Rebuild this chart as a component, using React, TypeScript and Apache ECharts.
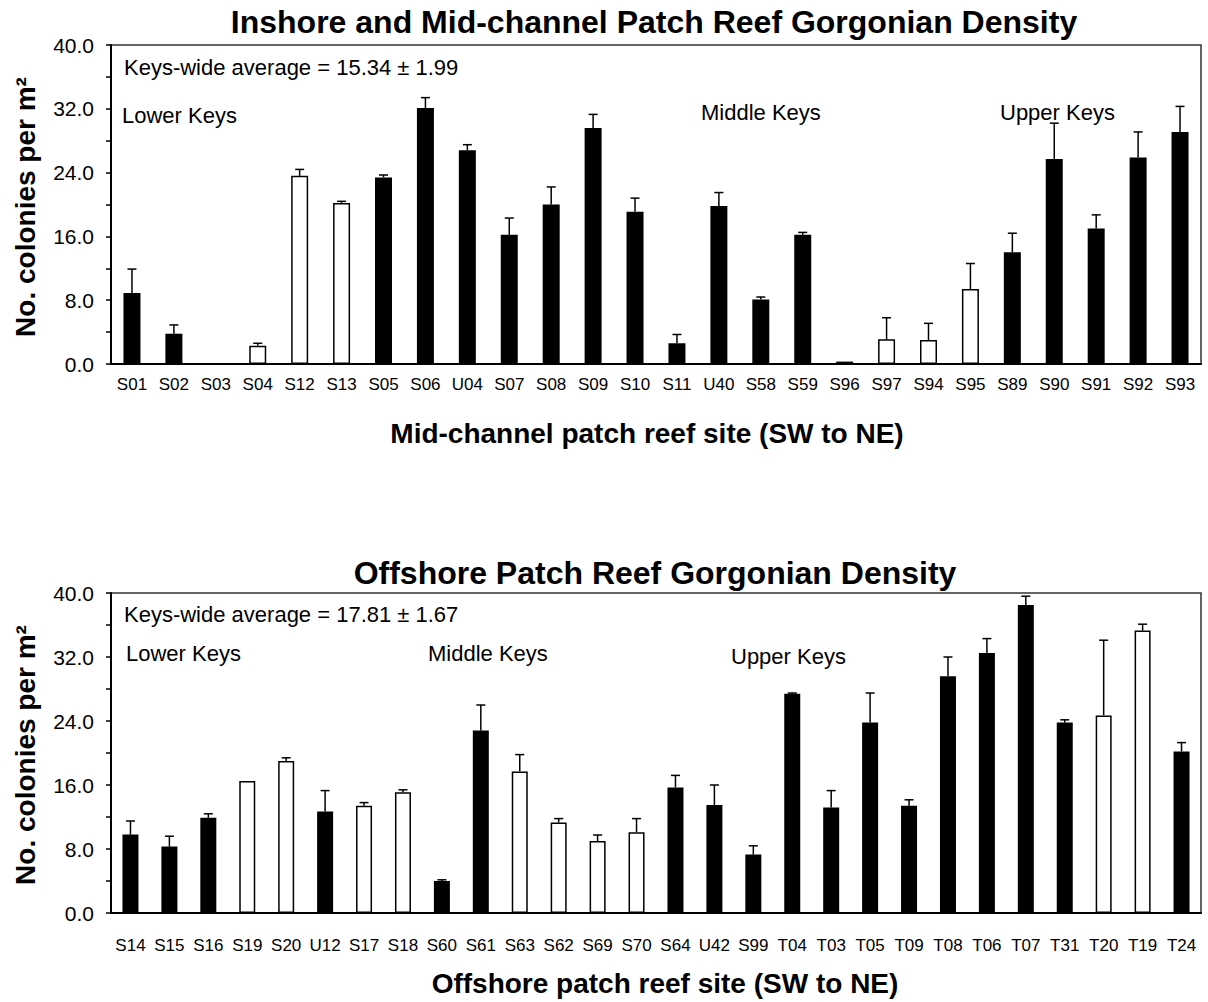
import React, { useEffect, useRef } from "react";
import * as echarts from "echarts";

const topSites = ["S01","S02","S03","S04","S12","S13","S05","S06","U04","S07","S08","S09","S10","S11","U40","S58","S59","S96","S97","S94","S95","S89","S90","S91","S92","S93"];
const topMeans = [8.9, 3.8, 0, 2.3, 23.6, 20.2, 23.4, 32.1, 26.8, 16.2, 20.0, 29.6, 19.1, 2.6, 19.8, 8.1, 16.2, 0.3, 3.1, 3.0, 9.4, 14.0, 25.7, 17.0, 25.9, 29.1];
const topErrs = [3.0, 1.1, 0, 0.3, 0.8, 0.2, 0.3, 1.3, 0.7, 2.1, 2.2, 1.7, 1.7, 1.1, 1.7, 0.3, 0.3, 0, 2.7, 2.1, 3.2, 2.4, 4.5, 1.7, 3.2, 3.2];
const topOpen = ["S03","S04","S12","S13","S97","S94","S95"];

const botSites = ["S14","S15","S16","S19","S20","U12","S17","S18","S60","S61","S63","S62","S69","S70","S64","U42","S99","T04","T03","T05","T09","T08","T06","T07","T31","T20","T19","T24"];
const botMeans = [9.8, 8.3, 11.9, 16.5, 19.0, 12.7, 13.4, 15.1, 4.0, 22.8, 17.7, 11.3, 9.0, 10.1, 15.7, 13.5, 7.3, 27.4, 13.2, 23.8, 13.4, 29.6, 32.5, 38.5, 23.8, 24.7, 35.3, 20.2];
const botErrs = [1.7, 1.3, 0.5, 0, 0.4, 2.6, 0.4, 0.3, 0.15, 3.2, 2.1, 0.5, 0.75, 1.7, 1.5, 2.5, 1.1, 0.1, 2.1, 3.7, 0.75, 2.4, 1.8, 1.1, 0.35, 9.4, 0.8, 1.1];
const botOpen = ["S19","S20","S17","S18","S63","S62","S69","S70","T20","T19"];

const yTicks = [0, 8, 16, 24, 32, 40];

const FONT = "'Liberation Sans', Arial, sans-serif";

function barData(sites: string[], means: number[], open: string[]) {
  return means.map((v, i) =>
    open.includes(sites[i])
      ? { value: v, itemStyle: { color: "#fff", borderColor: "#000", borderWidth: 1.5 } }
      : { value: v, itemStyle: { color: "#000", borderColor: "#000", borderWidth: 0 } }
  );
}

function errRender(capHalf: number) {
  return (params: any, api: any) => {
    const x = api.value(0);
    const m = api.value(1);
    const e = api.value(2);
    if (!(e > 0)) return { type: "group", children: [] };
    const p0 = api.coord([x, m]);
    const p1 = api.coord([x, m + e]);
    const st = { stroke: "#000", lineWidth: 1.5 };
    return {
      type: "group",
      children: [
        { type: "line", shape: { x1: p0[0], y1: p0[1], x2: p1[0], y2: p1[1] }, style: st },
        { type: "line", shape: { x1: p1[0] - capHalf, y1: p1[1], x2: p1[0] + capHalf, y2: p1[1] }, style: st },
      ],
    };
  };
}

function yAxisCfg(gridIndex: number) {
  return {
    type: "value",
    gridIndex,
    min: 0,
    max: 40,
    interval: 4,
    axisLine: { show: true, lineStyle: { color: "#000", width: 2 } },
    axisTick: { show: true, inside: false, length: 5, lineStyle: { color: "#000", width: 1.5 } },
    axisLabel: {
      margin: 17,
      color: "#000",
      fontSize: 21,
      fontFamily: FONT,
      formatter: (v: number) => (yTicks.includes(v) ? v.toFixed(1) : ""),
    },
    splitLine: { show: false },
  };
}

function xAxisCfg(gridIndex: number, data: string[], margin: number, fontSize: number) {
  return {
    type: "category",
    gridIndex,
    data,
    axisLine: { show: true, lineStyle: { color: "#000", width: 2 } },
    axisTick: { show: false },
    axisLabel: { interval: 0, margin, color: "#000", fontSize, fontFamily: FONT },
  };
}

function txt(text: string, x: number, y: number, size: number, bold: boolean, align = "left", rotation = 0) {
  return {
    type: "text",
    x,
    y,
    rotation,
    z: 100,
    style: {
      text,
      fill: "#000",
      fontSize: size,
      fontWeight: bold ? "bold" : "normal",
      fontFamily: FONT,
      textAlign: align,
      textVerticalAlign: "middle",
    },
  };
}

export default function App() {
  const ref = useRef<HTMLDivElement>(null);
  useEffect(() => {
    document.body.style.margin = "0";
    const chart = echarts.init(ref.current!, null, { renderer: "svg" });
    chart.setOption({
      animation: false,
      backgroundColor: "#fff",
      grid: [
        { left: 111, top: 45, width: 1090, height: 319, show: true, borderColor: "#333", borderWidth: 1.5, backgroundColor: "transparent" },
        { left: 111, top: 593, width: 1090, height: 320, show: true, borderColor: "#333", borderWidth: 1.5, backgroundColor: "transparent" },
      ],
      xAxis: [xAxisCfg(0, topSites, 12, 17), xAxisCfg(1, botSites, 24, 17)],
      yAxis: [yAxisCfg(0), yAxisCfg(1)],
      series: [
        { type: "bar", xAxisIndex: 0, yAxisIndex: 0, barWidth: 17, data: barData(topSites, topMeans, topOpen) },
        {
          type: "custom", xAxisIndex: 0, yAxisIndex: 0, z: 5,
          renderItem: errRender(4.5),
          encode: { x: 0, y: 1 },
          data: topMeans.map((m, i) => [i, m, topErrs[i]]),
        },
        { type: "bar", xAxisIndex: 1, yAxisIndex: 1, barWidth: 16, data: barData(botSites, botMeans, botOpen) },
        {
          type: "custom", xAxisIndex: 1, yAxisIndex: 1, z: 5,
          renderItem: errRender(4.5),
          encode: { x: 0, y: 1 },
          data: botMeans.map((m, i) => [i, m, botErrs[i]]),
        },
      ],
      graphic: [
        txt("Inshore and Mid-channel Patch Reef Gorgonian Density", 654, 22, 32, true, "center"),
        txt("Offshore Patch Reef Gorgonian Density", 655, 573, 32, true, "center"),
        txt("No. colonies per m²", 25, 207, 28, true, "center", Math.PI / 2),
        txt("No. colonies per m²", 25, 755, 28, true, "center", Math.PI / 2),
        txt("Mid-channel patch reef site (SW to NE)", 647, 433, 28, true, "center"),
        txt("Offshore patch reef site (SW to NE)", 665, 983, 28, true, "center"),
        txt("Keys-wide average = 15.34 ± 1.99", 124, 67, 22, false),
        txt("Lower Keys", 122, 115, 22, false),
        txt("Middle Keys", 701, 112, 22, false),
        txt("Upper Keys", 1000, 112, 22, false),
        txt("Keys-wide average = 17.81 ± 1.67", 124, 614, 22, false),
        txt("Lower Keys", 126, 653, 22, false),
        txt("Middle Keys", 428, 653, 22, false),
        txt("Upper Keys", 731, 656, 22, false),
      ],
    });
    return () => chart.dispose();
  }, []);
  return <div ref={ref} style={{ width: 1208, height: 1002 }} />;
}
